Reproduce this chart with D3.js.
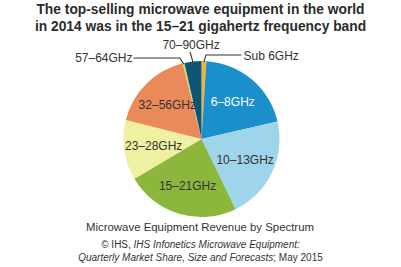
<!DOCTYPE html>
<html>
<head>
<meta charset="utf-8">
<script src="https://cdn.jsdelivr.net/npm/d3@7"></script>
<style>
  body { margin: 0; background: #fff; }
  svg { display: block; font-family: 'Liberation Sans', Arial, sans-serif; }
</style>
</head>
<body>
<div id="chart"></div>
<script>
// Data: share of 2014 microwave equipment revenue, clockwise from 12 o'clock
const bands = ['Sub 6GHz', '6–8GHz', '10–13GHz', '15–21GHz', '23–28GHz', '32–56GHz', '57–64GHz', '70–90GHz'];
const shares = [1.0, 20.4, 21.4, 23.7, 12.4, 17.2, 0.4, 3.5];
const colors = ['#f2b23a', '#1b8fcb', '#9fd5ea', '#8cb73c', '#eef0a2', '#e98a5a', '#c8d86a', '#0d5677'];

const width = 401;
const height = 267;
const radius = 78;
const cx = 201.5;
const cy = 139;

const svg = d3.select('#chart')
  .append('svg')
  .attr('width', width)
  .attr('height', height);

// Title
svg.append('text')
  .attr('x', 200.5)
  .attr('y', 14)
  .attr('text-anchor', 'middle')
  .attr('font-size', '13.8px')
  .attr('font-weight', 'bold')
  .attr('fill', '#2b2b2b')
  .text('The top-selling microwave equipment in the world');

svg.append('text')
  .attr('x', 200.5)
  .attr('y', 31)
  .attr('text-anchor', 'middle')
  .attr('font-size', '13.8px')
  .attr('font-weight', 'bold')
  .attr('fill', '#2b2b2b')
  .text('in 2014 was in the 15–21 gigahertz frequency band');

const data = bands.map((b, i) => ({ band: b, value: shares[i], color: colors[i] }));

const pie = d3.pie()
  .sort(null)
  .value((d) => d.value);

const arc = d3.arc().innerRadius(0).outerRadius(radius);
const labelArc = d3.arc().innerRadius(radius * 0.62).outerRadius(radius * 0.62);

const arcs = pie(data);

const g = svg.append('g')
  .attr('transform', `translate(${cx},${cy})`);

g.selectAll('path')
  .data(arcs)
  .enter()
  .append('path')
  .attr('d', arc)
  .attr('fill', (d) => d.data.color)
  .attr('stroke', 'none');

// Inside labels for the large slices
const inside = arcs.filter((d) => d.data.value > 5);
g.selectAll('text.inside')
  .data(inside)
  .enter()
  .append('text')
  .attr('class', 'inside')
  .attr('transform', (d) => `translate(${labelArc.centroid(d)})`)
  .attr('dy', '0.35em')
  .attr('text-anchor', 'middle')
  .attr('font-size', '12px')
  .attr('fill', (d) => (d.data.band === '6–8GHz' ? '#fff' : '#333'))
  .text((d) => d.data.band);

// Outside labels with leader lines for the small slices
function edgePoint(d, r) {
  const a = (d.startAngle + d.endAngle) / 2;
  return [r * Math.sin(a), -r * Math.cos(a)];
}

const leader = d3.line();

arcs.filter((d) => d.data.value <= 5).forEach((d) => {
  const p0 = edgePoint(d, radius - 1);
  let pts;
  let tx;
  let ty;
  let anchor;
  if (d.data.band === 'Sub 6GHz') {
    pts = [p0, [p0[0] + 2, -84], [40, -84]];
    tx = 42; ty = -79.5; anchor = 'start';
  } else if (d.data.band === '57–64GHz') {
    pts = [p0, [p0[0] - 4, -81], [-68, -81]];
    tx = -69; ty = -77; anchor = 'end';
  } else {
    pts = [p0, [p0[0] - 3, -87]];
    tx = p0[0] - 2; ty = -90.5; anchor = 'middle';
  }
  g.append('path')
    .attr('d', leader(pts))
    .attr('fill', 'none')
    .attr('stroke', '#333')
    .attr('stroke-width', 1.1);
  g.append('text')
    .attr('x', tx)
    .attr('y', ty)
    .attr('text-anchor', anchor)
    .attr('font-size', '12px')
    .attr('fill', '#333')
    .text(d.data.band);
});

// Caption and source
svg.append('text')
  .attr('x', 200)
  .attr('y', 231)
  .attr('text-anchor', 'middle')
  .attr('font-size', '11.4px')
  .attr('fill', '#333')
  .text('Microwave Equipment Revenue by Spectrum');

const src1 = svg.append('text')
  .attr('x', 200.5)
  .attr('y', 248)
  .attr('text-anchor', 'middle')
  .attr('font-size', '10px')
  .attr('fill', '#333');
src1.append('tspan').text('© IHS, ');
src1.append('tspan').attr('font-style', 'italic').text('IHS Infonetics Microwave Equipment:');

const src2 = svg.append('text')
  .attr('x', 200.5)
  .attr('y', 261)
  .attr('text-anchor', 'middle')
  .attr('font-size', '10px')
  .attr('fill', '#333');
src2.append('tspan').attr('font-style', 'italic').text('Quarterly Market Share, Size and Forecasts');
src2.append('tspan').text('; May 2015');
</script>
</body>
</html>
